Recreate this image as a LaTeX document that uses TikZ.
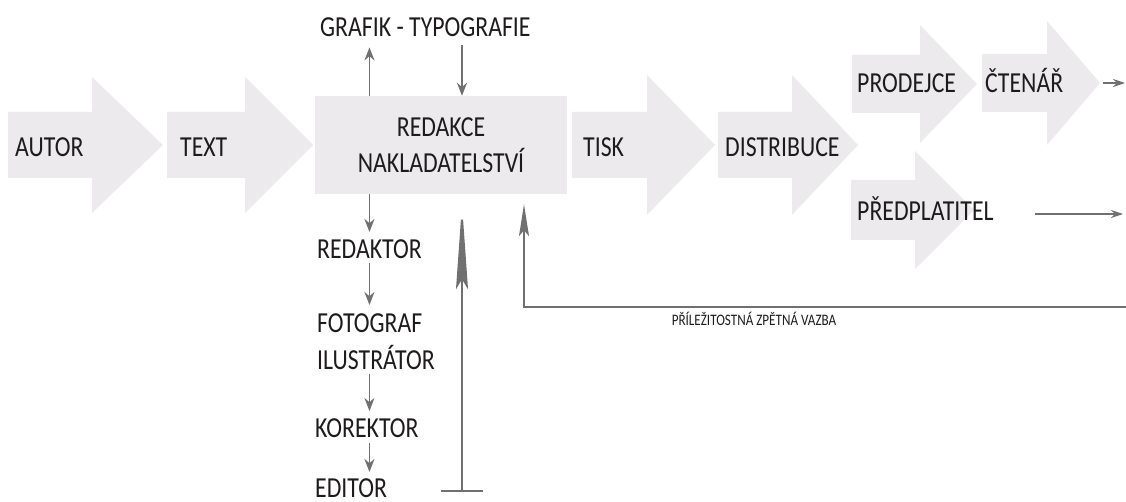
\documentclass[tikz,border=0pt]{standalone}
\usepackage{fontspec}
\setmainfont{Carlito}[FakeStretch=0.82]
\usetikzlibrary{arrows.meta, positioning, calc}

\definecolor{flowgray}{RGB}{236,234,236}
\definecolor{linegray}{RGB}{112,112,112}
\definecolor{inkblack}{RGB}{30,27,28}

% name, body left, body right, tip, centre y, body half height, head half height
\newcommand{\flowarrow}[7]{%
  \fill[flowgray] (#2,#5-#6) -- (#3,#5-#6) -- (#3,#5-#7) -- (#4,#5) -- (#3,#5+#7) -- (#3,#5+#6) -- (#2,#5+#6) -- cycle;
  \coordinate (#1-tip) at (#4,#5);}

\begin{document}
\begin{tikzpicture}[
        x=1pt, y=-1pt,
        lbl/.style={anchor=base west, inner sep=0pt, text=inkblack, font=\fontsize{29}{37}\selectfont},
        smalllbl/.style={inner sep=0pt, text=inkblack, font=\fontsize{16}{18}\selectfont},
        deskbox/.style={rectangle, fill=flowgray, minimum width=252pt, minimum height=98pt, align=center, inner sep=0pt, text=inkblack, font=\fontsize{29}{36}\selectfont},
        conn/.style={-{Stealth[length=13pt, width=10pt]}, line width=1.8pt, draw=linegray},
        thinconn/.style={-{Stealth[length=12pt, width=8pt, inset=4pt]}, line width=1.3pt, draw=linegray},
        bigconn/.style={{Bar[width=42pt]}-{Stealth[length=85pt, width=12pt, inset=10pt]}, line width=2.2pt, draw=linegray},
        feedconn/.style={-{Stealth[length=32pt, width=10pt, inset=6pt]}, line width=1.8pt, draw=linegray}
    ]
        \useasboundingbox (0,0) rectangle (1126,502);

        % flow arrows
        \flowarrow{autor}{8}{92}{163}{145}{33}{68}
        \flowarrow{text}{167}{245}{313}{145}{33}{68}
        \flowarrow{tisk}{572}{647}{715}{145}{33}{70}
        \flowarrow{distribuce}{718}{792}{858}{145}{33}{70}
        \flowarrow{prodejce}{852}{920}{977}{84}{29}{59}
        \flowarrow{ctenar}{982}{1047}{1100}{83}{29}{62}
        \flowarrow{predplatitel}{851}{915}{974}{210}{30}{59}

        \node[lbl] (autor) at (15,157) {AUTOR};
        \node[lbl] (text) at (180,157) {TEXT};
        \node[deskbox] (redakce) at (441,145) {REDAKCE\\NAKLADATELSTVÍ};
        \node[lbl] (tisk) at (583,157) {TISK};
        \node[lbl] (distribuce) at (725,157) {DISTRIBUCE};
        \node[lbl] (prodejce) at (857,93) {PRODEJCE};
        \node[lbl] (ctenar) at (985,93) {ČTENÁŘ};
        \node[lbl] (predplatitel) at (857,221) {PŘEDPLATITEL};

        \node[lbl] (grafik) at (320,37) {GRAFIK - TYPOGRAFIE};
        \node[lbl] (redaktor) at (317,259) {REDAKTOR};
        \node[lbl, anchor=north west, align=left] (fotograf) at (317,313) {FOTOGRAF\\ILUSTRÁTOR};
        \node[lbl] (korektor) at (315,437) {KOREKTOR};
        \node[lbl] (editor) at (315,497) {EDITOR};
        \node[smalllbl] (feedback) at (754,319) {PŘÍLEŽITOSTNÁ ZPĚTNÁ VAZBA};

        \coordinate (spine) at (462,492);
        \coordinate (fbend) at (524,307);
        \coordinate (fbstart) at (1126,307);
        \coordinate (readerout) at (1125,83);
        \coordinate (subline) at (1035,214);
        \coordinate (subend) at (1123,214);

        \draw[conn] (redakce.north -| redaktor.north) -- ($(grafik.south -| redaktor.north)+(0,10)$);
        \draw[conn] ($(grafik.south -| spine)+(0,8)$) -- (redakce.north -| spine);
        \draw[conn] (redakce.south -| redaktor.north) -- ($(redaktor.north)+(0,-8)$);
        \draw[conn] ($(redaktor.south)+(0,4)$) -- ($(fotograf.north -| redaktor.north)+(0,-8)$);
        \draw[conn] ($(fotograf.south -| redaktor.north)+(0,5)$) -- ($(korektor.north -| redaktor.north)+(0,-7)$);
        \draw[conn] ($(korektor.south -| redaktor.north)+(0,6)$) -- ($(editor.north -| redaktor.north)+(0,-6)$);

        \draw[bigconn] (spine) -- ($(redakce.south -| spine)+(0,10)$);
        \draw[feedconn] (fbstart) -- (fbend) -- ($(redakce.south -| fbend)+(0,10)$);

        \draw[thinconn] ($(ctenar-tip)+(3,0)$) -- (readerout);
        \draw[thinconn] (subline) -- (subend);
    \end{tikzpicture}
\end{document}
